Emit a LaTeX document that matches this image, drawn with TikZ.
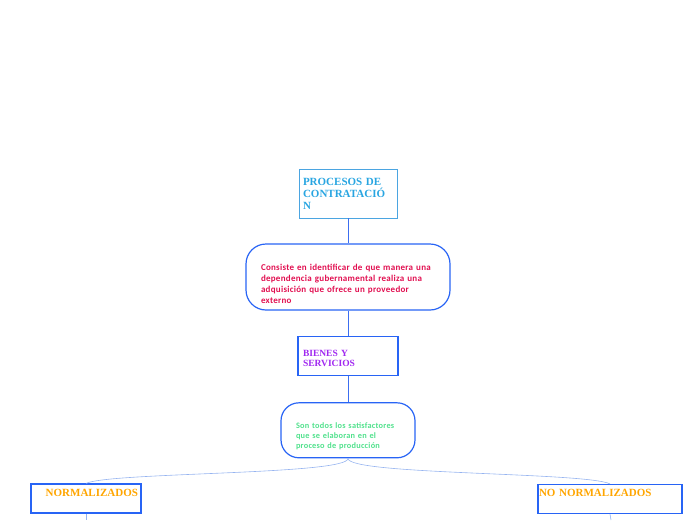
\documentclass[tikz,border=0pt]{standalone}
\usepackage{fontspec}
\setmainfont{Liberation Serif}
\newfontfamily\descfont[LetterSpace=3]{Carlito}
\usetikzlibrary{positioning}
\definecolor{linkblue}{RGB}{60,110,240}
\definecolor{paleblue}{RGB}{150,180,240}
\definecolor{edgeblue}{RGB}{40,100,245}
\definecolor{titleblue}{RGB}{40,165,225}
\definecolor{titleedge}{RGB}{75,165,225}
\definecolor{descred}{RGB}{225,15,80}
\definecolor{catpurple}{RGB}{160,40,240}
\definecolor{descgreen}{RGB}{80,225,140}
\definecolor{leaforange}{RGB}{255,165,0}
\newcommand{\lowered}[2]{\raisebox{-#1}[\height][\depth]{#2}}

\begin{document}
\begin{tikzpicture}[
    x=1pt, y=-1pt,
    titlebox/.style={rectangle, draw=titleedge, line width=0.8pt, text=titleblue, minimum width=98pt, minimum height=49pt, text width=90pt, inner xsep=4pt, align=left, font=\fontsize{11}{12}\selectfont\bfseries},
    descbox/.style={rectangle, rounded corners=20pt, draw=edgeblue, line width=1.2pt, inner xsep=15pt, align=left},
    catbox/.style={rectangle, draw=edgeblue, line width=1.6pt, text=catpurple, minimum width=100pt, minimum height=39pt, text width=90pt, inner xsep=5pt, align=left, font=\fontsize{9.5}{10}\selectfont\bfseries},
    leafbox/.style={rectangle, draw=edgeblue, line width=1.2pt, text=leaforange, minimum height=29pt, align=left, font=\fontsize{11}{12}\selectfont\bfseries},
    link/.style={draw=linkblue, line width=0.6pt},
    branch/.style={draw=paleblue, line width=0.6pt}
]
    \useasboundingbox (0,0) rectangle (696,520);

    % Title
    \node[titlebox] (proc) at (348,193.5) {PROCESOS DE\\CONTRATACIÓ\\N};

    % Definition
    \node[descbox, text=descred, minimum width=204pt, minimum height=66pt, text width=174pt, below=25pt of proc,
          font=\descfont\fontsize{9}{11}\selectfont\bfseries] (desc)
        {\lowered{7pt}{\parbox{174pt}{Consiste en identificar de que manera una\\dependencia gubernamental realiza una\\adquisición que ofrece un proveedor\\externo}}};

    % Goods and services
    \node[catbox, below=25pt of desc] (bienes) {\lowered{3pt}{\parbox{90pt}{BIENES Y\\SERVICIOS}}};

    \node[descbox, text=descgreen, rounded corners=18pt, minimum width=134pt, minimum height=55pt, text width=104pt, below=26pt of bienes,
          font=\descfont\fontsize{8.3}{10}\selectfont\bfseries] (son)
        {\lowered{5.5pt}{\parbox{104pt}{Son todos los satisfactores\\que se elaboran en el\\proceso de producción}}};

    % Types
    \node[leafbox, minimum width=110pt, text width=104pt, inner xsep=3pt, align=right] (norm) at (86,498.5) {NORMALIZADOS\\ \mbox{}};
    \node[leafbox, minimum width=144pt, text width=142pt, inner xsep=1pt] (nonorm) at (610,499) {NO NORMALIZADOS\\ \mbox{}};

    \coordinate (normend) at (86,520);
    \coordinate (nonormend) at (611,520);

    % Links
    \draw[link] (proc) -- (desc);
    \draw[link] (desc) -- (bienes);
    \draw[link] (bienes) -- (son);
    \draw[branch] (son.south) .. controls (348,475) and (110,472) .. (norm.north);
    \draw[branch] (son.south) .. controls (348,475) and (586,472) .. (nonorm.north);
    \draw[branch] (norm.south) -- (normend);
    \draw[branch] (nonorm.south) -- (nonormend);
\end{tikzpicture}
\end{document}
